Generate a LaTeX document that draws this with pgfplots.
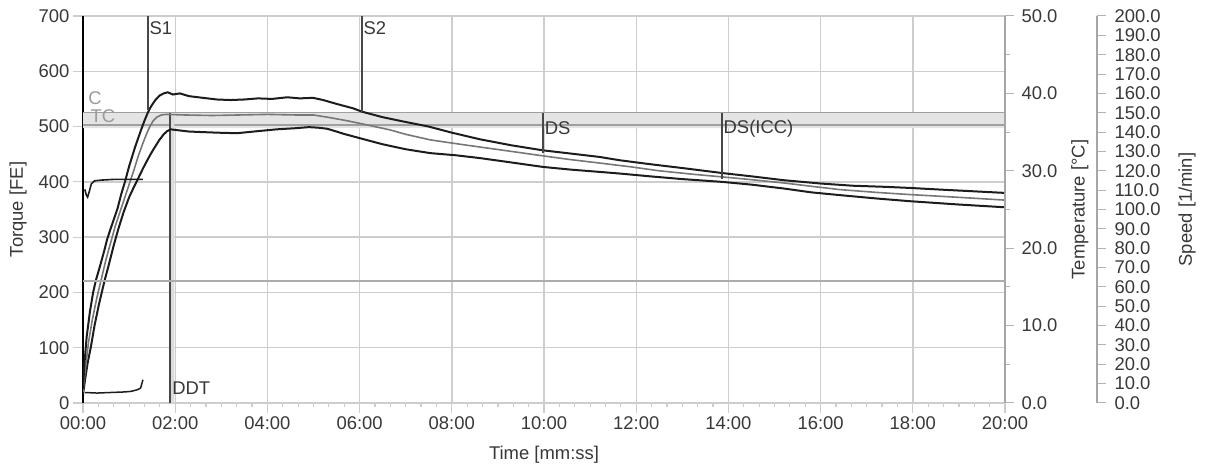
\documentclass[border=0pt]{standalone}
\usepackage{fontspec}
\setmainfont{Liberation Sans}
\usepackage{pgfplots}
\pgfplotsset{compat=1.18}
\definecolor{txt}{HTML}{383838}
\definecolor{gridc}{HTML}{CDCDCD}
\definecolor{curve}{HTML}{1C1C1C}
\definecolor{midc}{HTML}{777777}
\definecolor{markc}{HTML}{474747}
\definecolor{bandc}{HTML}{E4E4E4}
\definecolor{lblc}{HTML}{9A9A9A}
\newcommand{\fs}{\fontsize{18.5}{21}\selectfont}
\pgfplotsset{
  base/.style={scale only axis, width=922bp, height=387bp, at={(83bp,65bp)}, anchor=south west,
    xmin=0, xmax=20,
    /pgf/number format/assume math mode=true,
    tick label style={font=\fs, text=txt},
    label style={font=\fs, text=txt},
    tick align=outside},
}
\begin{document}
\begin{tikzpicture}
\useasboundingbox (0,0) rectangle (1206bp,468bp);
% ---------------- main torque axis
\begin{axis}[base, ymin=0, ymax=700,
  separate axis lines, axis x line*=bottom, axis y line*=left,
  x axis line style={gridc, line width=1.2bp},
  y axis line style={black, line width=2bp},
  xtick={0,2,...,20},
  xticklabels={00:00,02:00,04:00,06:00,08:00,10:00,12:00,14:00,16:00,18:00,20:00},
  minor x tick num=5,
  ytick={0,100,...,700},
  major tick length=10bp, minor tick length=4bp,
  tick style={gridc, line width=1.2bp},
  grid=major, major grid style={gridc, line width=1.4bp},
  xlabel={Time [mm:ss]}, ylabel={Torque [FE]},
  xlabel style={at={(axis description cs:0.5,-0.1344)}, anchor=center},
  ylabel style={at={(axis description cs:-0.0705,0.5)}, anchor=center},
]
% C / TC band
\addplot[fill=bandc, draw=none] coordinates {(0,497) (20,497) (20,525) (0,525) (0,497)};
\addplot[gray!75, line width=1.4bp] coordinates {(0,525) (20,525)};
\addplot[gray!75, line width=1.4bp] coordinates {(0,503) (20,503)};
% DDT band and line
\addplot[fill=gray!28, draw=none] coordinates {(1.89,0) (1.98,0) (1.98,524) (1.89,524) (1.89,0)};
\addplot[markc, line width=1.5bp] coordinates {(1.89,0) (1.89,524)};
% small curve near the start
\addplot[curve, line width=1.5bp] coordinates {(0.04,19) (0.3,18) (0.6,19) (0.9,20) (1.04,21) (1.18,24) (1.25,27) (1.3,42)};
% lower curve
\addplot[curve, line width=2bp] coordinates {
(0,15)(0.05,45)(0.1,72)(0.17,101)(0.25,140)(0.35,180)(0.47,222)(0.56,250)(0.66,283)(0.76,313)
(0.88,345)(1.0,372)(1.1,390)(1.19,405)(1.3,424)(1.4,440)(1.48,452)(1.56,463)(1.65,475)(1.75,486)
(1.83,492)(1.9,495)(2.1,493)(2.3,491)(2.6,490)(2.9,489)(3.34,488)(3.7,491)(4.2,495)(4.6,497)
(4.9,499)(5.1,498)(5.3,496)(5.5,491)(5.65,487)(6.05,478)(6.5,468)(7.0,459)(7.53,452)(8.1,448)
(8.61,443)(9.3,435)(9.98,427)(10.6,422)(11.21,418)(11.65,415)(12.3,410)(13.0,405)(13.86,400)
(14.5,395)(15.2,388)(15.8,381)(16.42,376)(17.2,370)(17.94,365)(19,359)(20,354)};
% middle curve
\addplot[midc, line width=1.6bp] coordinates {
(0,20)(0.05,60)(0.12,110)(0.2,150)(0.3,190)(0.4,225)(0.5,260)(0.6,290)(0.7,320)(0.8,345)
(0.9,370)(1.0,395)(1.1,420)(1.2,447)(1.3,470)(1.38,487)(1.45,500)(1.52,510)(1.6,517)(1.7,521)
(1.8,522)(2.2,521)(2.8,520)(3.4,521)(4.0,522)(4.6,521)(5.0,521)(5.3,517)(5.7,511)(6.05,505)
(6.66,494)(7.0,486)(7.53,476)(8.1,469)(8.61,463)(9.3,455)(9.98,447)(10.6,440)(11.21,434)
(11.9,427)(12.5,420)(13.2,414)(13.86,409)(14.5,404)(15.2,398)(15.9,391)(16.42,386)(17.2,381)
(17.94,377)(19,372)(20,367)};
% upper curve
\addplot[curve, line width=2bp] coordinates {
(0,25)(0.03,70)(0.08,120)(0.15,165)(0.22,200)(0.28,222)(0.36,245)(0.45,272)(0.52,295)(0.59,313)
(0.68,335)(0.75,352)(0.83,378)(0.91,400)(1.0,428)(1.13,463)(1.26,494)(1.34,512)(1.41,526)(1.48,537)
(1.57,548)(1.66,556)(1.75,560)(1.84,562)(1.95,558)(2.1,560)(2.3,555)(2.6,552)(2.9,549)(3.2,548)
(3.5,549)(3.8,551)(4.1,550)(4.43,553)(4.7,551)(4.99,552)(5.21,548)(5.5,541)(5.86,533)(6.05,527)
(6.5,517)(6.9,510)(7.5,500)(8.0,489)(8.61,477)(9.3,466)(9.98,457)(10.6,451)(11.21,445)(11.65,439)
(12.3,432)(13.0,425)(13.86,416)(14.5,410)(15.2,403)(16.0,397)(16.7,393)(17.4,391)(17.94,389)
(18.6,386)(19.3,383)(20,380)};
% marker lines
\addplot[markc, line width=1.5bp] coordinates {(1.41,700) (1.41,530)};
\addplot[markc, line width=1.5bp] coordinates {(6.05,700) (6.05,527)};
\addplot[markc, line width=1.5bp] coordinates {(9.98,525) (9.98,452)};
\addplot[markc, line width=1.5bp] coordinates {(13.86,525) (13.86,405)};
% labels
\node[font=\fs, text=txt, anchor=west, inner sep=1.5bp] at (axis cs:1.41,678) {S1};
\node[font=\fs, text=txt, anchor=west, inner sep=1.5bp] at (axis cs:6.05,678) {S2};
\node[font=\fs, text=txt, anchor=west, inner sep=1.5bp] at (axis cs:9.98,497) {DS};
\node[font=\fs, text=txt, anchor=west, inner sep=1.5bp] at (axis cs:13.86,497) {DS(ICC)};
\node[font=\fs, text=txt, anchor=west, inner sep=2bp] at (axis cs:1.89,27) {DDT};
\node[font=\fs, text=lblc, inner sep=0pt] at (axis cs:0.26,551) {C};
\node[font=\fs, text=lblc, inner sep=0pt] at (axis cs:0.43,519) {TC};
\end{axis}
% ---------------- temperature axis
\begin{axis}[base, ymin=0, ymax=50,
  axis x line=none, axis y line*=right,
  y axis line style={gray!70, line width=1.5bp},
  ytick={0,10,...,50}, minor y tick num=1,
  major tick length=9bp, minor tick length=5bp,
  tick style={gray!60, line width=1bp},
  yticklabel style={/pgf/number format/.cd, fixed, fixed zerofill, precision=1, /tikz/.cd, text width=1.95em, align=right, xshift=4bp},
  ylabel={Temperature [°C]},
  ylabel style={at={(axis description cs:1.0813,0.5)}, anchor=center},
]
\addplot[curve, line width=1.6bp] coordinates {(0.04,27.6)(0.07,26.9)(0.1,26.6)(0.14,27.4)(0.18,28.3)(0.25,28.7)(0.4,28.8)(0.7,28.9)(1.0,28.9)(1.3,28.9)};
\end{axis}
% ---------------- speed axis
\begin{axis}[base, ymin=0, ymax=200,
  axis x line=none, axis y line*=right, axis y line shift=92bp,
  y axis line style={gray!70, line width=1.5bp},
  ytick={0,10,...,200},
  major tick length=9bp,
  tick style={gray!60, line width=1bp},
  yticklabel style={/pgf/number format/.cd, fixed, fixed zerofill, precision=1, /tikz/.cd, text width=2.5em, align=right, xshift=5bp},
  ylabel={Speed [1/min]},
  ylabel style={at={(axis description cs:1.1974,0.5)}, anchor=center},
]
\addplot[gray!65, line width=1.5bp] coordinates {(0,63) (20,63)};
\end{axis}
\end{tikzpicture}
\end{document}
